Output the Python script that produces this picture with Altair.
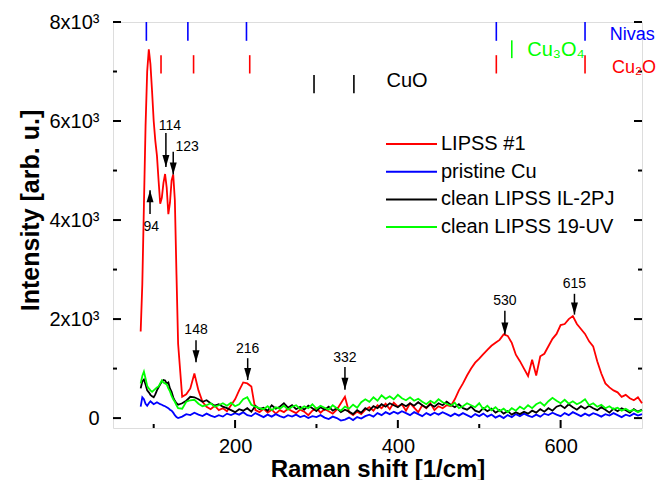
import altair as alt
import pandas as pd

# ---------------- data ----------------
shift_fine = [84, 86, 88, 90, 92, 94, 96, 98, 100, 102, 104, 106, 108, 110, 112, 114,
              116, 118, 120, 122, 124, 126, 128]
shift_coarse = list(range(130, 701, 5))
shift = shift_fine + shift_coarse

lipss1 = [1750, 2700, 4300, 5900, 7000, 7450, 7150, 6600, 6000, 5600, 5300, 4800, 4330,
          4450, 4750, 4930, 4650, 4120, 4350, 4800, 4920, 4400, 2900,
          1500, 430, 480, 600, 900, 560, 330, 230, 180, 250, 160, 200, 140, 260, 380, 560,
          720, 700, 640, 160, 120, 190, 110, 170, 90, 160, 120, 190, 140, 100, 170, 130,
          60, 150, 200, 110, 180, 140, 90, 170, 300, 430, 120, 60, 130, 80, 170, 220, 150,
          260, 200, 290, 180, 310, 230, 280, 150, 300, 210, 120, 260, 200, 300, 160, 240,
          200, 260, 240, 380, 560, 700, 860, 1000, 1120, 1200, 1290, 1380, 1460, 1520,
          1580, 1690, 1660, 1520, 1280, 1150, 1000, 850, 1180, 860, 1250, 1300, 1450,
          1600, 1700, 1880, 1900, 2000, 2060, 1900, 1800, 1700, 1550, 1450, 1150, 900,
          700, 620, 560, 520, 430, 470, 400, 360, 420, 300]

pristine = [230, 420, 380, 290, 250, 300, 340, 310, 280, 300, 320, 300, 280, 270, 250,
            240, 220, 200, 170, 150, 110, 60, 20,
            0, 30, 80, 60, 110, 70, 40, 90, 50, 20, 60, 30, 90, 60, 100, 70, 120, 60, 40,
            100, 60, 20, 70, 30, 80, 40, 10, 60, 30, 70, 20, 50, 0, 40, 20, 60, 10, -20,
            30, 0, -50, -30, 10, -40, 20, -10, 40, 70, 30, 100, 60, 120, 80, 130, 90, 140,
            100, 60, 120, 80, 40, 100, 60, 110, 70, 120, 80, 40, 90, 50, 100, 60, 20, 80,
            40, 90, 30, 70, 10, 50, 0, 60, 20, 80, 40, 90, 50, 20, 70, 30, 90, 60, 110,
            70, 40, 100, 60, 120, 80, 40, 90, 50, 100, 70, 30, 80, 50, 100, 60, 20, 70,
            40, 90, 50, 80]

clean_il = [600, 740, 780, 680, 560, 520, 470, 440, 420, 480, 560, 620, 680, 740, 770,
            760, 700, 720, 600, 530, 420, 350, 300,
            270, 300, 350, 430, 420, 380, 330, 360, 300, 250, 280, 230, 200, 160, 120,
            180, 150, 200, 130, 250, 180, 210, 150, 260, 190, 230, 300, 210, 260, 180,
            230, 170, 250, 200, 140, 220, 170, 230, 150, 200, 120, 170, 130, 80, 160, 110,
            200, 150, 240, 200, 280, 230, 300, 260, 220, 290, 240, 300, 250, 320, 260,
            210, 280, 230, 300, 260, 330, 270, 220, 280, 200, 170, 230, 150, 120, 200,
            140, 190, 110, 160, 90, 140, 70, 120, 80, 130, 90, 150, 110, 180, 130, 200,
            150, 230, 260, 200, 280, 220, 170, 240, 190, 250, 200, 160, 220, 170, 110,
            190, 140, 200, 160, 110, 180, 130, 170]

clean_uv = [700, 850, 940, 800, 650, 600, 560, 530, 560, 590, 620, 640, 700, 760, 720,
            700, 680, 600, 540, 450, 380, 330, 260,
            200, 190, 330, 360, 370, 290, 240, 260, 300, 230, 260, 300, 250, 310, 240,
            280, 380, 420, 270, 230, 200, 180, 240, 160, 220, 190, 250, 170, 230, 260,
            180, 240, 200, 280, 190, 250, 210, 170, 260, 200, 150, 230, 190, 270, 210,
            320, 380, 330, 420, 350, 460, 390, 440, 380, 470, 400, 360, 420, 350, 390,
            330, 280, 350, 300, 380, 320, 290, 250, 310, 200, 240, 300, 260, 220, 300,
            180, 250, 160, 220, 140, 190, 120, 200, 150, 230, 180, 260, 200, 280, 320,
            250, 340, 410, 350, 300, 370, 290, 340, 280, 320, 380, 260, 300, 230, 270,
            200, 240, 180, 210, 150, 190, 140, 170, 120, 160]

series_names = ["LIPSS #1", "pristine Cu", "clean LIPSS IL-2PJ", "clean LIPSS 19-UV"]
series_colors = ["#ff0000", "#0000ff", "#000000", "#00ff00"]
series_values = [lipss1, pristine, clean_il, clean_uv]

# reference positions (top markers)
ref_pos = [91, 142, 214, 521, 630,
           109, 149, 218, 521, 630,
           540,
           297, 346]
ref_top = [8000, 8000, 8000, 8000, 8000,
           7330, 7330, 7330, 7330, 7330,
           7630,
           6930, 6930]
ref_bot = [7620, 7620, 7620, 7620, 7620,
           6960, 6960, 6960, 6960, 6960,
           7270,
           6560, 6560]
ref_color = ["#0000ff"] * 5 + ["#ff0000"] * 5 + ["#00ff00"] + ["#000000"] * 2

phase_text = ["Nivas", "Cu₂O", "Cu₃O₄", "CuO"]
phase_x = [660.5, 663, 559, 386]
phase_y = [7730, 7080, 7440, 6800]
phase_color = ["#0000ff", "#ff0000", "#00ff00", "#000000"]
phase_size = [18, 18, 20, 20]

# peak annotations
peak_label = ["94", "114", "123", "148", "216", "332", "530", "615"]
peak_x = [95.5, 115, 124, 152, 215.5, 335, 531.5, 617]
peak_tail = [4120, 5760, 5380, 1570, 1210, 1030, 2170, 2510]
peak_tip = [4600, 5070, 4920, 1130, 770, 575, 1690, 2090]
peak_lx = [97, 120, 141, 152, 215.5, 335, 531.5, 617]
peak_ly = [3860, 5900, 5470, 1770, 1405, 1215, 2360, 2710]

y_major = [0, 2000, 4000, 6000, 8000]
y_minor = [1000, 3000, 5000, 7000]
x_major = [200, 400, 600]
x_minor = [100, 300, 500]

# --------------- chart ---------------
W, H = 529, 406
FONT = "Liberation Sans"

rows = []
for name, vals in zip(series_names, series_values):
    for s, v in zip(shift, vals):
        rows.append({"shift": s, "intensity": v, "series": name})
df = pd.DataFrame(rows)

xscale = alt.Scale(domain=[50, 700], nice=False, zero=False)
yscale = alt.Scale(domain=[-200, 8000], nice=False, zero=False)

x_axis = alt.Axis(
    values=x_major, title="Raman shift [1/cm]", grid=False, domain=False, ticks=False,
    tickSize=0, labelPadding=8, labelFontSize=20, labelFont=FONT, labelColor="black",
    titleFont=FONT, titleFontSize=24, titleFontWeight="bold", titleColor="black",
    titleY=48, titleBaseline="alphabetic")
y_axis = alt.Axis(
    values=y_major, title="Intensity [arb. u.]", grid=False, domain=False, ticks=False,
    tickSize=0, labelPadding=14, labelFontSize=20, labelFont=FONT, labelColor="black",
    labelExpr="datum.value == 0 ? '0' : (datum.value / 1000) + 'x10³'",
    titleFont=FONT, titleFontSize=25, titleFontWeight="bold", titleColor="black",
    titleX=-83, titleY=188, titleBaseline="middle", titleAngle=-90)


def X(field):
    return alt.X(field, type="quantitative", scale=xscale, axis=x_axis)


def Y(field):
    return alt.Y(field, type="quantitative", scale=yscale, axis=y_axis)


color_enc = alt.Color("series:N", scale=alt.Scale(domain=series_names, range=series_colors),
                      legend=alt.Legend(
                          title=None, orient="none", legendX=272, legendY=112,
                          symbolType="stroke", symbolSize=2600, symbolStrokeWidth=2,
                          labelFontSize=20, labelFont=FONT, labelColor="black",
                          labelLimit=400, labelOffset=3, clipHeight=20, rowPadding=7.7,
                          padding=0))

layers = []
for name in series_names:
    layers.append(
        alt.Chart(df).transform_filter(alt.datum.series == name)
        .mark_line(strokeWidth=1.8)
        .encode(x=X("shift"), y=Y("intensity"), color=color_enc, order="shift:Q")
    )


def tick_layer(vals, axis_field, x=None, x2=None, y=None, y2=None):
    d = pd.DataFrame({"v": vals})
    if axis_field == "y":
        enc = dict(y=Y("v"), x=x, x2=x2)
    else:
        enc = dict(x=X("v"), y=y, y2=y2)
    return alt.Chart(d).mark_rule(color="black", strokeWidth=2).encode(**enc)


layers += [
    tick_layer(y_major, "y", x=alt.value(0), x2=alt.value(8)),
    tick_layer(y_minor, "y", x=alt.value(0), x2=alt.value(4)),
    tick_layer(y_major, "y", x=alt.value(W - 8), x2=alt.value(W)),
    tick_layer(y_minor, "y", x=alt.value(W - 4), x2=alt.value(W)),
    tick_layer(x_major, "x", y=alt.value(H - 8), y2=alt.value(H)),
    tick_layer(x_minor, "x", y=alt.value(H - 4), y2=alt.value(H)),
]

ref_df = pd.DataFrame({"pos": ref_pos, "top": ref_top, "bot": ref_bot, "c": ref_color})
layers.append(
    alt.Chart(ref_df).mark_rule(strokeWidth=1.6).encode(
        x=X("pos"), y=Y("top"), y2="bot:Q",
        color=alt.Color("c:N", scale=None, legend=None))
)

phase_df = pd.DataFrame({"x": phase_x, "y": phase_y, "t": phase_text, "c": phase_color,
                         "s": phase_size})
layers.append(
    alt.Chart(phase_df).mark_text(align="left", baseline="middle", font=FONT).encode(
        x=X("x"), y=Y("y"), text="t:N",
        size=alt.Size("s:Q", scale=None, legend=None),
        color=alt.Color("c:N", scale=None, legend=None))
)

peak_df = pd.DataFrame({"x": peak_x, "tail": peak_tail, "tip": peak_tip,
                        "lx": peak_lx, "ly": peak_ly, "label": peak_label})
peak_df["dir"] = ["up" if t > a else "down" for a, t in zip(peak_tail, peak_tip)]

layers.append(
    alt.Chart(peak_df).mark_rule(color="black", strokeWidth=1.5).encode(
        x=X("x"), y=Y("tail"), y2="tip:Q")
)
layers.append(
    alt.Chart(peak_df).transform_filter(alt.datum.dir == "down").mark_point(
        shape="M-0.7,-2.4L0.7,-2.4L0,0Z", filled=True, color="black", opacity=1, size=100,
        strokeWidth=0).encode(x=X("x"), y=Y("tip"))
)
layers.append(
    alt.Chart(peak_df).transform_filter(alt.datum.dir == "up").mark_point(
        shape="M-0.7,2.4L0.7,2.4L0,0Z", filled=True, color="black", opacity=1, size=100,
        strokeWidth=0).encode(x=X("x"), y=Y("tip"))
)
layers.append(
    alt.Chart(peak_df).mark_text(align="center", baseline="middle", fontSize=14,
                                 font=FONT, color="black").encode(
        x=X("lx"), y=Y("ly"), text="label:N")
)

chart = alt.layer(*layers).properties(
    width=W, height=H,
    autosize=alt.AutoSizeParams(type="none"),
    padding={"left": 105, "top": 14, "right": 14, "bottom": 52},
).configure_view(stroke="black", strokeWidth=2.5).configure(background="white")

chart.save("out.html", embed_options={"renderer": "svg", "actions": False})
